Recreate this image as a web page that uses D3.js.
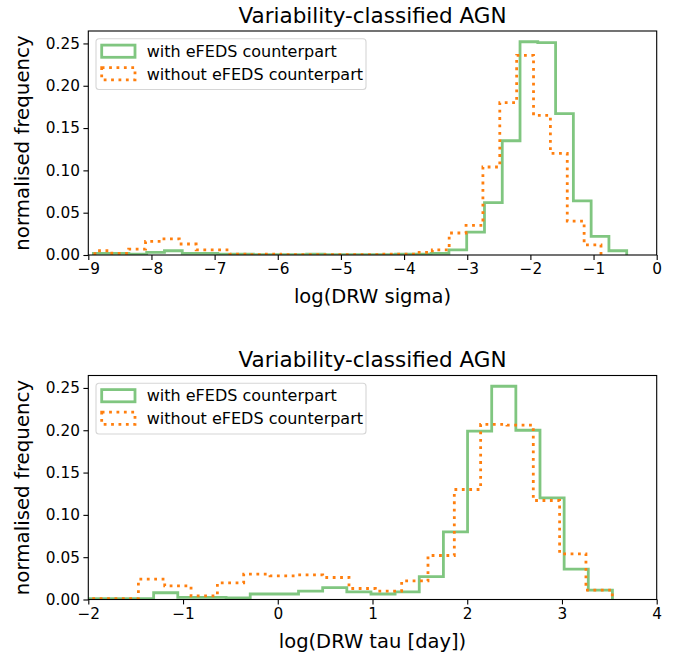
<!DOCTYPE html>
<html>
<head>
<meta charset="utf-8">
<script src="https://d3js.org/d3.v7.min.js"></script>
<style>
  body { margin: 0; background: #fff; }
  text { font-family: "DejaVu Sans", sans-serif; fill: #000; }
</style>
</head>
<body>
<div id="chart"></div>
<script>
// ---- data (normalised histogram weights) ----
var seriesNames = ["with eFEDS counterpart", "without eFEDS counterpart"];
var panelTitles = ["Variability-classified AGN", "Variability-classified AGN"];
var xLabels = ["log(DRW sigma)", "log(DRW tau [day])"];
var yLabel = "normalised frequency";

var sigmaTicks = [-9, -8, -7, -6, -5, -4, -3, -2, -1, 0];
var tauTicks = [-2, -1, 0, 1, 2, 3, 4];
var yTicks = [0, 0.05, 0.10, 0.15, 0.20, 0.25];

// sigma, with eFEDS: first bin edge, bin width, values
var sigmaWithStart = -8.92, sigmaWithWidth = 0.2815;
var sigmaWith = [0.002, 0.002, 0.001, 0.003, 0.005, 0.002, 0.002, 0.001, 0.001, 0.0005,
                 0.0005, 0.0005, 0.001, 0.0005, 0.0005, 0.0005, 0.0005, 0.001, 0.001, 0.002,
                 0.006, 0.027, 0.062, 0.135, 0.252, 0.251, 0.167, 0.064, 0.022, 0.005];
// sigma, without eFEDS
var sigmaWithoutStart = -8.895, sigmaWithoutWidth = 0.2671;
var sigmaWithout = [0.005, 0.002, 0.007, 0.016, 0.019, 0.013, 0.006, 0.006, 0.001, 0.0005,
                    0.001, 0.0005, 0.0005, 0.0005, 0.0005, 0.0005, 0.0005, 0.001, 0.001, 0.003,
                    0.006, 0.026, 0.035, 0.104, 0.180, 0.236, 0.165, 0.120, 0.040, 0.012];
// tau, with eFEDS
var tauWithStart = -2.075, tauWithWidth = 0.2549;
var tauWith = [0.001, 0.001, 0.001, 0.008, 0.0025, 0.0025, 0.002, 0.0065, 0.0065, 0.0098,
               0.014, 0.009, 0.0065, 0.009, 0.027, 0.080, 0.199, 0.252, 0.200, 0.120,
               0.036, 0.011];
// tau, without eFEDS
var tauWithoutStart = -2.027, tauWithoutWidth = 0.2779;
var tauWithout = [0.001, 0.001, 0.024, 0.016, 0.0043, 0.0196, 0.030, 0.028, 0.029, 0.026,
                  0.013, 0.010, 0.022, 0.052, 0.130, 0.207, 0.206, 0.117, 0.054, 0.011];

// ---- layout ----
var W = 684, H = 659;
var svg = d3.select('#chart').append('svg')
  .attr('width', W).attr('height', H);

var green = 'rgb(128,198,128)';
var orange = '#ff7f0e';
var lw = 2.8;

function edgesOf(start, width, n) {
  var e = [];
  for (var i = 0; i <= n; i++) e.push(start + i * width);
  return e;
}

function stepPoints(edges, vals) {
  var pts = [[edges[0], 0]];
  vals.forEach(function(v, i) {
    pts.push([edges[i], v]);
    pts.push([edges[i + 1], v]);
  });
  pts.push([edges[edges.length - 1], 0]);
  return pts;
}

function panel(cfg) {
  var left = 88.3, right = 656.7;
  var x = d3.scaleLinear().domain(cfg.xDomain).range([left, right]);
  var y = d3.scaleLinear().domain([0, 0.2647]).range([cfg.bottom, cfg.top]);
  var g = svg.append('g');

  var clipId = 'clip' + cfg.id;
  svg.append('clipPath').attr('id', clipId)
    .append('rect')
    .attr('x', left).attr('y', cfg.top)
    .attr('width', right - left).attr('height', cfg.bottom - cfg.top);

  var line = d3.line()
    .x(function(d) { return x(d[0]); })
    .y(function(d) { return y(d[1]); });

  var plot = g.append('g').attr('clip-path', 'url(#' + clipId + ')');
  cfg.series.forEach(function(s) {
    plot.append('path')
      .attr('fill', 'none')
      .attr('stroke', s.color)
      .attr('stroke-width', lw)
      .attr('stroke-dasharray', s.dash || null)
      .attr('stroke-linejoin', 'miter')
      .attr('d', line(stepPoints(edgesOf(s.start, s.width, s.values.length), s.values)));
  });

  // axes
  var xAxis = d3.axisBottom(x).tickValues(cfg.xTicks).tickSize(4.9).tickPadding(3.5)
    .tickFormat(function(d) { return d < 0 ? '\u2212' + Math.abs(d) : d; });
  var gx = g.append('g').attr('transform', 'translate(0,' + cfg.bottom + ')').call(xAxis);
  var yAxis = d3.axisLeft(y).tickValues(yTicks).tickSize(4.9).tickPadding(3.5)
    .tickFormat(d3.format('.2f'));
  var gy = g.append('g').attr('transform', 'translate(' + left + ',0)').call(yAxis);
  [gx, gy].forEach(function(a) {
    a.select('.domain').remove();
    a.selectAll('line').attr('stroke', '#000').attr('stroke-width', 1.1);
    a.selectAll('text').attr('font-size', 15.3).attr('font-family', 'DejaVu Sans').attr('fill', '#000');
  });

  // frame
  g.append('rect')
    .attr('x', left).attr('y', cfg.top)
    .attr('width', right - left).attr('height', cfg.bottom - cfg.top)
    .attr('fill', 'none').attr('stroke', '#000').attr('stroke-width', 1.1);

  // title and labels
  g.append('text')
    .attr('x', (left + right) / 2).attr('y', cfg.top - 8.5)
    .attr('text-anchor', 'middle').attr('font-size', 21.5)
    .text(cfg.title);
  g.append('text')
    .attr('x', (left + right) / 2).attr('y', cfg.bottom + 48)
    .attr('text-anchor', 'middle').attr('font-size', 19.5)
    .text(cfg.xLabel);
  g.append('text')
    .attr('transform', 'translate(29,' + ((cfg.top + cfg.bottom) / 2) + ') rotate(-90)')
    .attr('text-anchor', 'middle').attr('font-size', 19.8)
    .text(yLabel);

  // legend
  var lg = g.append('g').attr('transform', 'translate(96,' + (cfg.top + 7.8) + ')');
  lg.append('rect')
    .attr('x', 0).attr('y', 0).attr('width', 270).attr('height', 50.7)
    .attr('rx', 3).attr('ry', 3)
    .attr('fill', 'rgba(255,255,255,0.8)').attr('stroke', '#d6d6d6').attr('stroke-width', 1.1);
  cfg.series.forEach(function(s, i) {
    var cy = 12.4 + i * 22.6;
    lg.append('rect')
      .attr('x', 5.7).attr('y', cy - 6.1).attr('width', 33.3).attr('height', 12.2)
      .attr('fill', 'none').attr('stroke', s.color).attr('stroke-width', lw)
      .attr('stroke-dasharray', s.dash || null);
    lg.append('text')
      .attr('x', 50.7).attr('y', cy + 5.8)
      .attr('font-size', 16)
      .text(s.name);
  });
}

panel({
  id: 'a', top: 31, bottom: 255, xDomain: [-9, 0], xTicks: sigmaTicks,
  title: panelTitles[0], xLabel: xLabels[0],
  series: [
    {name: seriesNames[0], color: green, start: sigmaWithStart, width: sigmaWithWidth, values: sigmaWith},
    {name: seriesNames[1], color: orange, dash: '2.8,4.6', start: sigmaWithoutStart, width: sigmaWithoutWidth, values: sigmaWithout}
  ]
});

panel({
  id: 'b', top: 375.5, bottom: 599.5, xDomain: [-2, 4], xTicks: tauTicks,
  title: panelTitles[1], xLabel: xLabels[1],
  series: [
    {name: seriesNames[0], color: green, start: tauWithStart, width: tauWithWidth, values: tauWith},
    {name: seriesNames[1], color: orange, dash: '2.8,4.6', start: tauWithoutStart, width: tauWithoutWidth, values: tauWithout}
  ]
});
</script>
</body>
</html>
